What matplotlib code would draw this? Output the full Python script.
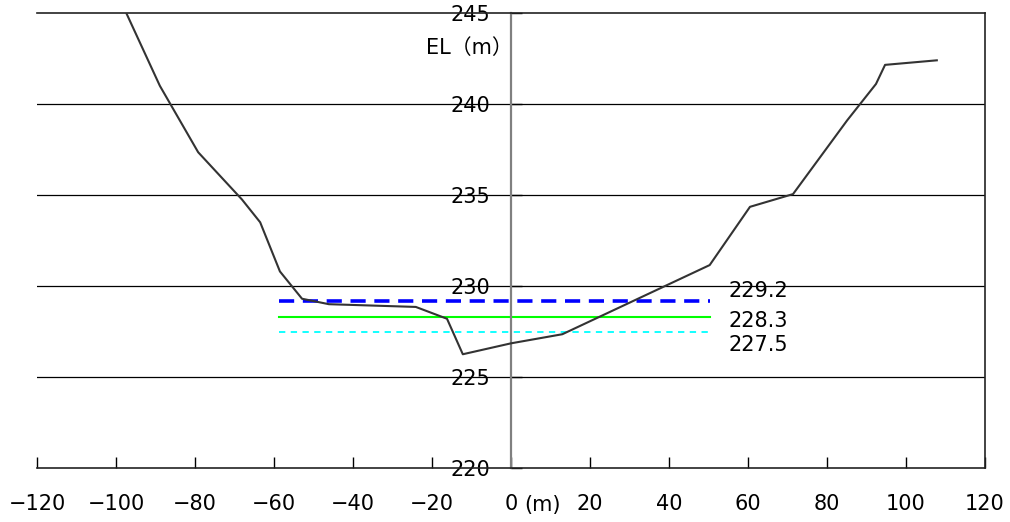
import matplotlib
matplotlib.use("Agg")
import matplotlib.pyplot as plt
from matplotlib.transforms import blended_transform_factory

plt.rcParams['font.family'] = ['DejaVu Sans', 'Noto Sans CJK JP']

# ---- data ----
profile_x = [-97.4, -88.9, -79.2, -68.1, -63.5, -58.5, -52.9, -46.1, -24.1,
             -16.2, -12.2, 0.0, 13.0, 50.3, 60.5, 71.4, 85.1, 92.4, 94.7, 107.8]
profile_y = [245.0, 241.0, 237.35, 234.75, 233.5, 230.8, 229.3, 229.0, 228.85,
             228.2, 226.25, 226.85, 227.35, 231.15, 234.35, 235.05, 239.1, 241.1, 242.15, 242.4]

level_names = ["229.2", "228.3", "227.5"]
level_values = [229.2, 228.3, 227.5]
level_x0, level_x1 = -58.7, 50.3

x_ticks = list(range(-120, 121, 20))
y_ticks = [220, 225, 230, 235, 240, 245]

FS = 15

# ---- figure ----
fig = plt.figure(figsize=(10.1, 5.22), dpi=100)
ax = fig.add_axes([37 / 1010, 1 - 468 / 522, 948 / 1010, 455 / 522])
ax.set_xlim(-120, 120)
ax.set_ylim(220, 245)

# grid lines
for yv in y_ticks[1:-1]:
    ax.axhline(yv, color="black", lw=0.9, zorder=1)

# water levels
styles = [
    dict(color="#0000ff", lw=2.6, dashes=(4.2, 2.4)),
    dict(color="#00ff00", lw=1.5),
    dict(color="#00ffff", lw=1.3, dashes=(3.5, 3.0)),
]
for val, st in zip(level_values, styles):
    ax.plot([level_x0, level_x1], [val, val], zorder=2, **st)

# ground profile
ax.plot(profile_x, profile_y, color="#333333", lw=1.5, zorder=3)

# level labels
label_y = [229.72, 228.08, 226.76]
for name, ly in zip(level_names, label_y):
    ax.text(55, ly, name, fontsize=FS, ha="left", va="center")

# axes styling
ax.spines["left"].set_position(("data", 0))
ax.spines["left"].set_color("#808080")
ax.spines["left"].set_linewidth(1.6)
for s in ["top", "bottom", "right"]:
    ax.spines[s].set_linewidth(1.2)
    ax.spines[s].set_color("#222222")

ax.set_xticks(x_ticks)
ax.set_xticklabels([str(v).replace("-", "\u2212") for v in x_ticks])
ax.set_yticks(y_ticks)
ax.tick_params(axis="x", direction="in", length=8, width=1, pad=19, labelsize=FS)
ax.tick_params(axis="y", direction="in", length=8, width=1, pad=15, labelsize=FS)

trans = blended_transform_factory(ax.transData, ax.transAxes)
ax.text(3.4, -0.081, "(m)", transform=trans, fontsize=FS, ha="left", va="center")
ax.text(0.5, 243.08, "EL（m）", fontsize=FS, ha="right", va="center")

fig.savefig("out.png", dpi=100)
